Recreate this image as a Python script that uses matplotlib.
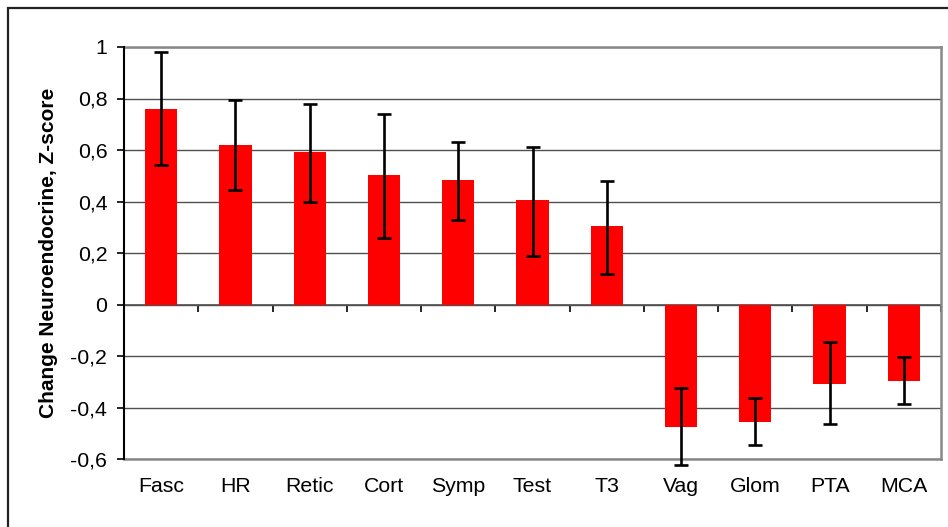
import matplotlib
matplotlib.use("Agg")
import matplotlib.pyplot as plt
from matplotlib.patches import Rectangle
import numpy as np

categories = ["Fasc", "HR", "Retic", "Cort", "Symp", "Test", "T3", "Vag", "Glom", "PTA", "MCA"]
values = [0.76, 0.62, 0.593, 0.502, 0.483, 0.404, 0.303, -0.477, -0.458, -0.307, -0.297]
err_upper = [0.98, 0.795, 0.78, 0.739, 0.63, 0.612, 0.48, -0.324, -0.364, -0.144, -0.205]
err_lower = [0.54, 0.445, 0.40, 0.259, 0.33, 0.19, 0.119, -0.623, -0.545, -0.464, -0.385]
yticks = [-0.6, -0.4, -0.2, 0, 0.2, 0.4, 0.6, 0.8, 1]
ytick_labels = ["-0,6", "-0,4", "-0,2", "0", "0,2", "0,4", "0,6", "0,8", "1"]
ylabel = "Change Neuroendocrine, Z-score"

plt.rcParams['font.family'] = ['Liberation Sans', 'DejaVu Sans']

W, H = 948, 527
fig = plt.figure(figsize=(W / 100, H / 100), dpi=100)
ax = fig.add_axes([124 / W, 1 - 459 / H, (941 - 124) / W, (459 - 47) / H])

x = np.arange(len(categories))
vals = np.array(values)
lo = vals - np.array(err_lower)
hi = np.array(err_upper) - vals

ax.bar(x, vals, width=0.435, color="#FF0000", zorder=3)
eb = ax.errorbar(x, vals, yerr=[lo, hi], fmt="none", ecolor="black", elinewidth=1.9,
                 capsize=5.3, capthick=1.9, zorder=6)
for child in eb.get_children():
    child.set_clip_on(False)

ax.set_xlim(-0.5, len(categories) - 0.5)
ax.set_ylim(-0.6, 1.0)
ax.set_yticks(yticks)
ax.set_yticklabels(ytick_labels, fontsize=15.3)
ax.yaxis.grid(True, color="#505050", linewidth=1.0, zorder=0)
ax.set_axisbelow(True)

ax.set_xticks(x)
ax.set_xticklabels(categories, fontsize=15.3)
ax.tick_params(axis="x", length=0, pad=13)
ax.tick_params(axis="y", direction="out", length=5, width=1.2, color="black", pad=7)

for s in ["top", "right", "bottom"]:
    ax.spines[s].set_color("#888888")
    ax.spines[s].set_linewidth(1.8)
ax.spines["left"].set_color("black")
ax.spines["left"].set_linewidth(1.5)
ax.spines["left"].set_zorder(5)

# zero line axis with tick marks between categories
sec = ax.secondary_xaxis((0 - (-0.6)) / 1.6)
sec.set_xticks(np.arange(len(categories)) + 0.5)
sec.set_xticklabels([])
sec.tick_params(direction="out", length=5, width=1.2, color="black")
sec.spines["bottom"].set_color("#505050")
sec.spines["bottom"].set_linewidth(1.2)

ax.set_ylabel(ylabel, fontsize=15, fontweight="bold")
ax.yaxis.set_label_coords(-(124 - 58) / (941 - 124), 0.5)

# outer chart frame
fig.patches.append(Rectangle((8 / W, -0.5), 2, 1.5 - 8 / H, transform=fig.transFigure,
                             fill=False, edgecolor="#222222", linewidth=1.6))

fig.savefig("out.png", dpi=100)
